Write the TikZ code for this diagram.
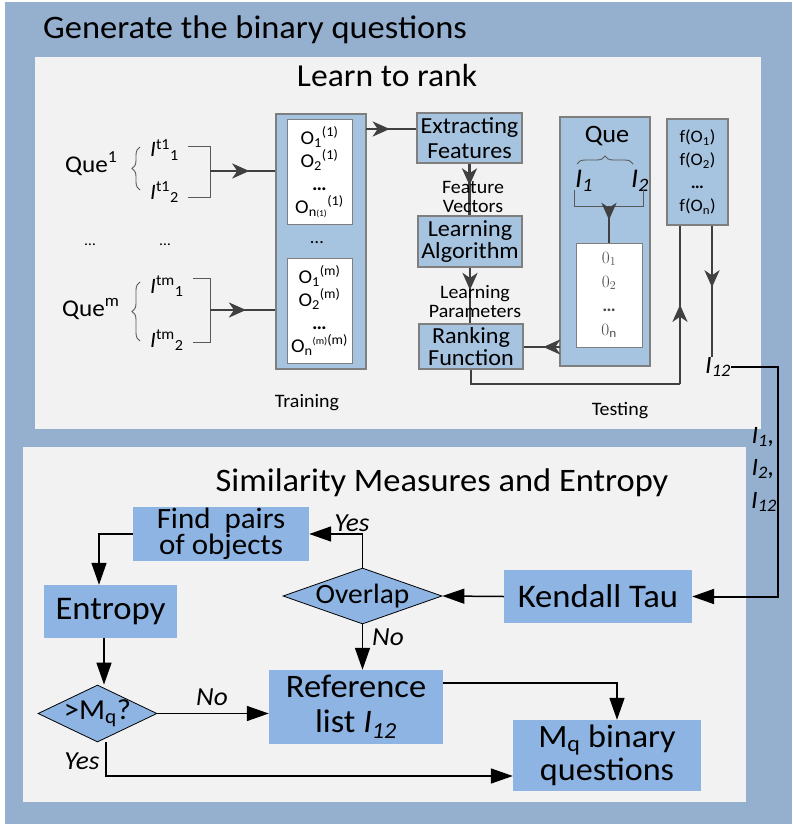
\documentclass[tikz,border=0pt]{standalone}
\usepackage{fontspec}
\setmainfont{Carlito}[FakeStretch=1.05]
\usetikzlibrary{arrows.meta,shapes.geometric,decorations.pathreplacing,decorations.markings,calc}
\definecolor{outerblue}{HTML}{95AFCF}
\definecolor{panelgray}{HTML}{F2F2F2}
\definecolor{topblue}{HTML}{A6C3DF}
\definecolor{botblue}{HTML}{8DB4E2}
\definecolor{boxedge}{HTML}{7F7F7F}
\definecolor{darkline}{HTML}{404040}
\definecolor{thingray}{HTML}{595959}
\newcommand\fsz[2]{\fontsize{#1}{#2}\selectfont}
\begin{document}
\begin{tikzpicture}[x=1pt,y=-1pt,
 topbox/.style={draw=boxedge, line width=1.2pt, fill=topblue, inner sep=0pt},
 whitebox/.style={draw=boxedge, line width=1pt, fill=white, inner sep=0pt},
 botbox/.style={fill=botblue, inner sep=0pt, align=center},
 botdiamond/.style={diamond, draw=black, line width=0.8pt, fill=botblue, inner sep=0pt},
 topline/.style={draw=darkline, line width=2.6pt},
 midarrow/.style={postaction={decorate}, decoration={markings, mark=at position #1 with {\arrow{Stealth[length=17pt,width=15pt,inset=5pt]}}}},
 botarrow/.style={draw=black, line width=1.5pt, -{Triangle[length=22pt,width=15pt]}},
 thinline/.style={draw=thingray, line width=0.9pt},
 lbl/.style={inner sep=0pt, text=black},
]
\useasboundingbox (0,0) rectangle (792,824);
\fill[white] (0,0) rectangle (792,824);
\fill[outerblue] (5,2) rectangle (792,824);
\fill[panelgray] (35,57) rectangle (761,429);
\fill[panelgray] (23,447) rectangle (746,802);

% titles
\node[lbl, anchor=base west, font=\fsz{32.8}{40}] (title) at (43,39) {Generate the binary questions};
\node[lbl, anchor=base, font=\fsz{32}{40}] (ltr) at (387,87) {Learn to rank};
\node[lbl, anchor=base, font=\fsz{32.8}{40}] (sim) at (442,491) {Similarity Measures and Entropy};

% left: queries
\node[lbl, anchor=base west, font=\fsz{24}{30}] (que1) at (65,172) {Que\textsuperscript{1}};
\node[lbl, anchor=base west, font=\fsz{24}{30}] (quem) at (62,316) {Que\textsuperscript{m}};
\node[lbl, anchor=base west, font=\fsz{22}{22}] (it11) at (150,157) {\textit{I}\textsuperscript{t1}\textsubscript{1}};
\node[lbl, anchor=base west, font=\fsz{22}{22}] (it12) at (150,199) {\textit{I}\textsuperscript{t1}\textsubscript{2}};
\node[lbl, anchor=base west, font=\fsz{22}{22}] (itm1) at (150,293) {\textit{I}\textsuperscript{tm}\textsubscript{1}};
\node[lbl, anchor=base west, font=\fsz{22}{22}] (itm2) at (150,347) {\textit{I}\textsuperscript{tm}\textsubscript{2}};
\node[lbl, font=\fsz{15}{15}] (dots1) at (90,245) {…};
\node[lbl, font=\fsz{15}{15}] (dots2) at (165,245) {…};

\coordinate (br1s) at (140,190); \coordinate (br1e) at (140,147);
\coordinate (br2s) at (140,341); \coordinate (br2e) at (140,282);
\draw[thinline, decorate, decoration={brace, amplitude=8pt}] (br1s) -- (br1e);
\draw[thinline, decorate, decoration={brace, amplitude=8pt}] (br2s) -- (br2e);

\coordinate (k1a) at (188,146); \coordinate (k1b) at (210,146);
\coordinate (k1c) at (210,197); \coordinate (k1d) at (188,197);
\coordinate (k2a) at (193,278); \coordinate (k2b) at (210,278);
\coordinate (k2c) at (210,342); \coordinate (k2d) at (193,342);
\draw[thinline] (k1a) -- (k1b) -- (k1c) -- (k1d);
\draw[thinline] (k2a) -- (k2b) -- (k2c) -- (k2d);
\coordinate (k1m) at (210,171);
\coordinate (k2m) at (210,310);

% training
\node[topbox, minimum width=90pt, minimum height=255pt] (tr) at (321,241.5) {};
\node[whitebox, minimum width=65pt, minimum height=104pt, align=center, font=\fsz{19.5}{23}] (tw1) at (319.5,172)
 {O\textsubscript{1}\textsuperscript{(1)}\\O\textsubscript{2}\textsuperscript{(1)}\\\textbf{…}\\O\textsubscript{n{\fsz{9}{9}(1)}}\textsuperscript{(1)}};
\node[lbl, font=\fsz{18}{18}] (trdots) at (317,243) {…};
\node[whitebox, minimum width=65pt, minimum height=105pt, align=center, font=\fsz{19.5}{23}] (tw2) at (319.5,310.5)
 {O\textsubscript{1}\textsuperscript{(m)}\\O\textsubscript{2}\textsuperscript{(m)}\\\textbf{…}\\O\textsubscript{n}\textsuperscript{{\fsz{10}{10}(m)}(m)}};
\draw[topline, midarrow=0.6] (k1m) -- (k1m -| tr.west);
\draw[topline, midarrow=0.55] (k2m) -- (k2m -| tr.west);

% pipeline
\node[topbox, minimum width=105pt, minimum height=50pt, align=center, font=\fsz{23}{25}] (ef) at (469.5,138) {Extracting\\Features};
\node[topbox, minimum width=104pt, minimum height=51pt, align=center, font=\fsz{23}{22}] (la) at (470,241.5) {Learning\\Algorithm};
\node[topbox, minimum width=104pt, minimum height=45pt, align=center, font=\fsz{23}{22}] (rf) at (471,346.5) {Ranking\\Function};

\coordinate (t1) at (366,129);
\draw[topline, midarrow=0.47] (t1) -- (t1 -| ef.west);
\draw[topline, midarrow=0.42] (ef.south) -- (ef.south |- la.north);
\draw[topline, midarrow=0.40] (la.south) -- (la.south |- rf.north);
\node[lbl, align=center, font=\fsz{19}{19}] (fv) at (473,197) {Feature\\Vectors};
\node[lbl, align=center, font=\fsz{19}{19}] (lp) at (475,302) {Learning\\Parameters};

% testing
\node[topbox, minimum width=90pt, minimum height=249pt] (qb) at (605,241.5) {};
\node[lbl, font=\fsz{25}{26}] (quet) at (607,136) {Que};
\coordinate (qbr1) at (577,164); \coordinate (qbr2) at (633,164);
\draw[thinline, decorate, decoration={brace, amplitude=8pt}] (qbr1) -- (qbr2);
\node[lbl, font=\fsz{27}{28}\itshape] (qi1) at (584,181) {I\textsubscript{1}};
\node[lbl, font=\fsz{27}{28}\itshape] (qi2) at (640,181) {I\textsubscript{2}};
\coordinate (qk1) at (574,190); \coordinate (qk2) at (574,206);
\coordinate (qk3) at (643,206); \coordinate (qk4) at (643,190);
\draw[thinline] (qk1) -- (qk2) -- (qk3) -- (qk4);
\node[whitebox, minimum width=66pt, minimum height=104pt, align=center, font=\fsz{18}{24}, text=black!70] (qw) at (609,295)
 {$0_1$\\$0_2$\\\textbf{…}\\$0_\mathrm{n}$};
\coordinate (qkm) at (609,206);
\draw[topline, midarrow=0.38] (qkm) -- (qkm |- qw.north);
\coordinate (q1) at (560,347);
\draw[topline, midarrow=0.46] (q1) -- (q1 -| rf.east);

\node[topbox, minimum width=61pt, minimum height=106pt, align=center, font=\fsz{17.5}{23}] (fo) at (697.5,172)
 {f(O\textsubscript{1})\\f(O\textsubscript{2})\\\textbf{…}\\f(O\textsubscript{n})};
\node[lbl, font=\fsz{25}{26}\itshape] (i12) at (718,367) {I\textsubscript{12}};

\coordinate (c2) at (680,384);
\draw[topline] (rf.south) |- (c2);
\draw[topline, midarrow=0.5] (c2) -- (c2 |- fo.south);
\coordinate (f1) at ([xshift=14.5pt]fo.south);
\draw[topline, midarrow=0.47] (f1) -- (f1 |- i12.north);

\node[lbl, font=\fsz{19}{19}] (trl) at (307,403) {Training};
\node[lbl, font=\fsz{19}{19}] (tel) at (620,411) {Testing};

% right labels
\node[lbl, font=\fsz{25}{26}\itshape] (r1) at (763,437) {I\textsubscript{1},};
\node[lbl, font=\fsz{25}{26}\itshape] (r2) at (763,469) {I\textsubscript{2},};
\node[lbl, font=\fsz{25}{26}\itshape] (r3) at (764,502) {I\textsubscript{12}};

% bottom flow
\node[botbox, minimum width=176pt, minimum height=54pt, font=\fsz{29.5}{26.5}] (fp) at (221,534) {Find~~pairs\\of objects};
\node[botbox, minimum width=133pt, minimum height=53pt, font=\fsz{33}{33}] (en) at (110.5,611.5) {Entropy};
\node[botdiamond, minimum width=119pt, minimum height=57pt] (mq) at (97.5,713.5) {};
\node[lbl, font=\fsz{29}{29}] (mqt) at (97.5,713.5) {>M\textsubscript{q}?};
\node[botbox, minimum width=174pt, minimum height=74pt, font=\fsz{32.8}{35}] (ref) at (356,707) {Reference\\list \textit{I\textsubscript{12}}};
\node[botdiamond, minimum width=159pt, minimum height=56pt] (ov) at (362.5,596) {};
\node[lbl, font=\fsz{28}{28}] (ovt) at (362.5,596) {Overlap};
\node[botbox, minimum width=188pt, minimum height=53pt, font=\fsz{33}{33}] (kt) at (598,596.5) {Kendall Tau};
\node[botbox, minimum width=188pt, minimum height=71pt, font=\fsz{32.5}{33}] (mb) at (607,755.5) {M\textsubscript{q} binary\\questions};

\coordinate (rc) at (778,480);
\draw[draw=black, line width=2pt, -{Triangle[length=22pt,width=15pt]}] (i12.east) -| (rc) |- (kt.east);

\draw[botarrow] (kt.west) -- (ov.east);
\draw[botarrow] (ov.north) |- (fp.east);
\coordinate (e0) at ([xshift=-11.5pt]en.north);
\draw[botarrow] (fp.west) -| (e0);
\coordinate (e1) at ([xshift=-6.5pt]en.south);
\draw[botarrow] (e1) -- (e1 |- mq.north);
\draw[botarrow] (mq.east) -- (mq.east -| ref.west);
\draw[botarrow] (ov.south) -- (ov.south |- ref.north);
\coordinate (r0) at ([yshift=-13pt]ref.north east);
\coordinate (m0) at ([xshift=10pt]mb.north);
\draw[botarrow] (r0) -| (m0);
\coordinate (y0) at ([xshift=8.5pt]mq.south);
\coordinate (m2) at ([yshift=-20.5pt]mb.west);
\draw[botarrow] (y0) |- (m2);

\node[lbl, font=\fsz{26}{27}\itshape] (yes1) at (352,523) {Yes};
\node[lbl, font=\fsz{26}{27}\itshape] (no1) at (388,637) {No};
\node[lbl, font=\fsz{26}{27}\itshape] (no2) at (212,697) {No};
\node[lbl, font=\fsz{26}{27}\itshape] (yes2) at (82,761) {Yes};
\end{tikzpicture}
\end{document}
